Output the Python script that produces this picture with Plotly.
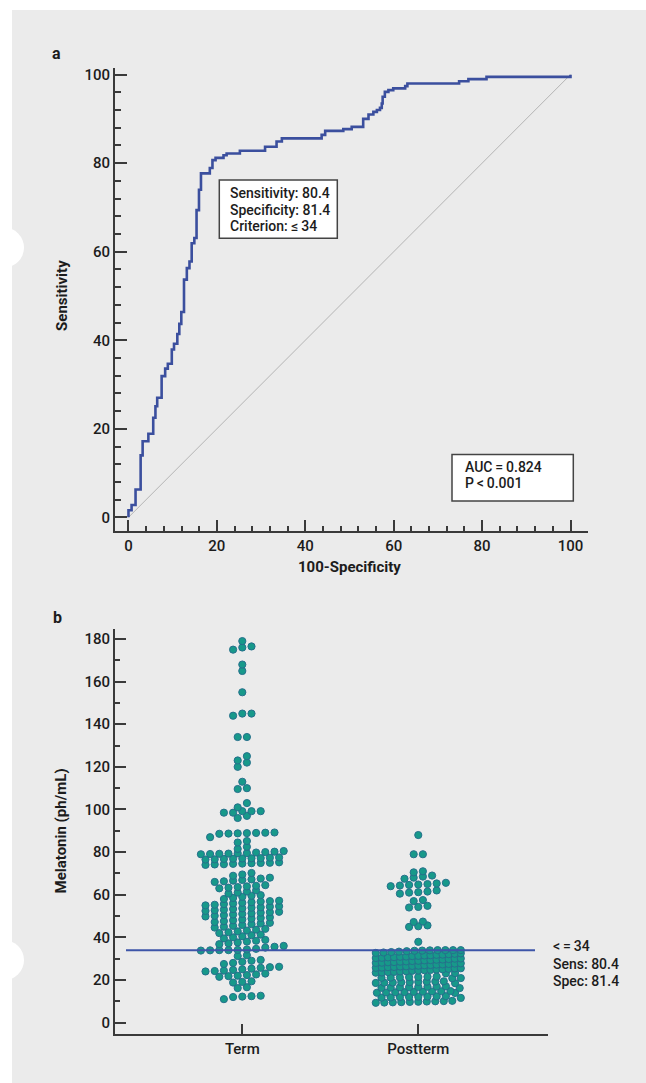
import numpy as np
import plotly.graph_objects as go

W, H = 646, 1083
FONT = "Roboto"

# ---------------- Data ----------------
# ROC curve (100-Specificity, Sensitivity), step vertices
roc_fpr = [0, 0, 0.7, 1.6, 2.75, 3.2, 4.5, 5.6, 6.1, 6.5, 7.5, 8.3, 8.9, 9.8, 10.3,
           11.05, 11.5, 11.95, 12.56, 13.2, 13.8, 14.3, 14.9, 15.4, 15.95, 16.4,
           18.4, 19.0, 19.7, 21.5, 22.2, 25.2, 30.9, 33.5, 34.7, 43.7, 44.5, 48.6,
           50.5, 53.1, 54.3, 55.4, 56.2, 56.9, 57.3, 57.5, 58.0, 58.8, 59.9, 62.6,
           63.1, 74.8, 76.9, 81.0, 100]
roc_tpr = [0, 1.6, 2.8, 6.3, 14.0, 17.2, 18.9, 22.5, 25.1, 27.0, 31.9, 33.6, 34.7,
           37.9, 39.2, 41.4, 43.7, 46.4, 53.7, 56.3, 57.8, 61.9, 63.1, 69.4, 74.0,
           77.7, 78.9, 80.7, 81.2, 81.8, 82.2, 82.8, 83.7, 84.9, 85.6, 86.4, 87.3,
           87.7, 88.2, 90.0, 91.0, 91.6, 92.0, 92.5, 93.5, 95.0, 96.1, 96.5, 96.9,
           97.4, 98.0, 98.5, 99.0, 99.5, 100]

groups = ["Term", "Postterm"]

term_values = [
    11, 12, 12.2, 12.4, 12.6,
    16.2, 16.6,
    18.8, 19.1, 19.4,
    21.5, 21.8, 22.0, 22.3, 22.6, 23.0,
    24.0, 24.2, 24.4, 24.7, 25.0, 25.3, 25.7, 26.0, 26.2,
    27.5, 28.0, 28.5, 29.0, 29.4,
    31.2, 31.6,
    33.8, 33.9, 34.0, 34.0, 34.1, 34.3, 34.6, 35.2, 35.6, 36.0,
    36.8, 37.2, 37.6, 38.0, 38.4, 38.8,
    39.5, 40.0, 40.5, 41.0, 41.3,
    42.0, 42.4, 42.8, 43.2, 43.6, 44.0,
    44.6, 45.0, 45.4, 45.8, 46.2, 46.5, 46.8,
    47.2, 47.6, 48.0, 48.4, 48.8, 49.1, 49.4,
    49.8, 50.1, 50.4, 50.7, 51.0, 51.3, 51.6, 51.8, 52.0,
    52.4, 52.7, 53.0, 53.3, 53.6, 53.9, 54.1, 54.4, 54.6,
    55.0, 55.3, 55.6, 55.9, 56.2, 56.5, 56.8, 57.0, 57.2,
    58.0, 58.5, 59.0, 59.5, 59.8,
    60.5, 61.0, 61.5, 62.0,
    63.0, 63.3, 63.6, 63.9, 64.2, 64.5,
    66.0, 66.3, 66.6, 66.9, 67.2, 67.6, 68.0,
    68.9, 69.5, 70.2,
    74.0, 74.2, 74.3, 74.5, 74.6, 74.8, 74.9, 75.0, 75.2,
    76.5, 76.6, 76.8, 76.9, 77.0, 77.1, 77.2, 77.4, 77.5,
    79.0, 79.1, 79.2, 79.3, 79.4, 79.5, 79.8, 80.0, 80.2, 80.5,
    81.5, 82.5,
    84.5, 85.2,
    87.0, 88.6, 88.7, 88.8, 88.9, 89.0, 89.1, 89.2,
    96.0, 97.0,
    98.5, 98.5, 99.2, 99.2, 99.2,
    101.0, 103.0,
    109.6, 110.0,
    113.0,
    120.0, 122.0,
    123.0, 125.0,
    134.0, 134.0,
    144.0, 145.0, 145.0,
    155.0,
    165.0,
    168.0,
    175.0, 176.0, 176.5,
    179.0,
]

postterm_values = [
    9.3, 9.4, 9.5, 9.6, 9.7, 9.8, 9.9, 10.0, 10.1, 10.2,
    11.6, 11.7, 11.8, 11.9, 12.0, 12.1, 12.2, 12.3, 12.4,
    13.9, 14.0, 14.1, 14.2, 14.3, 14.4, 14.5, 14.6, 14.7, 14.8,
    16.2, 16.3, 16.4, 16.5, 16.6, 16.7, 16.8, 16.9, 17.0,
    18.5, 18.6, 18.7, 18.8, 18.9, 19.0, 19.1, 19.2, 19.3, 19.4,
    20.8, 20.9, 21.0, 21.1, 21.2, 21.3, 21.4, 21.5, 21.6,
    23.1, 23.2, 23.4, 23.5, 23.7, 23.8, 24.0, 24.1, 24.3, 24.4, 24.6, 24.7, 24.9, 25.0, 25.2,
    25.4, 25.5, 25.7, 25.8, 26.0, 26.1, 26.3, 26.4, 26.6, 26.7, 26.9, 27.0, 27.2, 27.3, 27.5,
    27.7, 27.8, 28.0, 28.1, 28.3, 28.4, 28.6, 28.7, 28.9, 29.0, 29.2, 29.3, 29.5, 29.6, 29.8,
    30.0, 30.1, 30.3, 30.4, 30.6, 30.7, 30.9, 31.0, 31.2, 31.3, 31.5, 31.6, 31.8, 31.9, 32.1,
    32.3, 32.5, 32.7, 32.9, 33.1, 33.3, 33.5, 33.7, 33.8, 33.9, 34.0, 34.0, 34.0, 34.0,
    37.9,
    44.9, 45.2, 45.6,
    47.2, 47.4,
    54.0, 54.3, 54.8,
    57.0, 57.5,
    60.5, 61.0, 61.2, 61.5, 62.0,
    64.0, 64.3, 64.6, 64.8, 65.0, 65.3, 65.6,
    67.5, 68.0, 68.5, 69.0,
    70.5, 71.0,
    79.0, 79.0,
    88.0,
]

cutoff = 34
roc_box_lines = ["Sensitivity: 80.4", "Specificity: 81.4", "Criterion: \u2264\u200934"]
auc_lines = ["AUC\u2009=\u20090.824", "P\u2009<\u20090.001"]
cut_lines = ["<\u2009=\u200934", "Sens: 80.4", "Spec: 81.4"]

# ---------------- helpers ----------------
def pxx(x):
    return x / W

def pxy(y):
    return 1 - y / H

PX_PER_CAT = 176.0


def swarm(values, row_span=2.3, spacing_px=9.2, max_width_px=85.0):
    vals = np.sort(np.asarray(values, dtype=float))
    xs = np.zeros_like(vals)
    i, n = 0, len(vals)
    while i < n:
        j = i
        while j < n and vals[j] < vals[i] + row_span:
            j += 1
        m = j - i
        s = spacing_px if m <= 1 else min(spacing_px, max_width_px / (m - 1))
        xs[i:j] = (np.arange(m) - (m - 1) / 2.0) * s / PX_PER_CAT
        i = j
    return vals, xs


AX = "#3a3a3a"
TXT = "#1c1c1c"
BLUE = "#3b4f9e"

fig = go.Figure()

# Panel a: diagonal + ROC
fig.add_trace(go.Scatter(x=[0, 100], y=[0, 100], mode="lines",
                         line=dict(color="#b4b4b4", width=1), xaxis="x", yaxis="y",
                         hoverinfo="skip"))
fig.add_trace(go.Scatter(x=roc_fpr, y=roc_tpr, mode="lines", line_shape="hv",
                         line=dict(color=BLUE, width=2.6), xaxis="x", yaxis="y"))

# Panel b: dot plots
for gi, (name, vals) in enumerate(zip(groups, [term_values, postterm_values])):
    yv, xo = swarm(vals)
    fig.add_trace(go.Scatter(x=gi + xo, y=yv, mode="markers", name=name,
                             marker=dict(size=7.2, color="#17998a",
                                         line=dict(color="#26708c", width=1)),
                             xaxis="x2", yaxis="y2"))

axis_common = dict(showline=True, linewidth=2, linecolor=AX, showgrid=False,
                   zeroline=False, ticks="inside", tickwidth=2, tickcolor=AX,
                   tickfont=dict(family=FONT, size=15, color=TXT, weight=500))

fig.update_layout(
    width=W, height=H, margin=dict(l=0, r=0, t=0, b=0),
    paper_bgcolor="white", plot_bgcolor="rgba(0,0,0,0)", showlegend=False,
    font=dict(family=FONT, size=15, color=TXT),
    xaxis=dict(domain=[pxx(115), pxx(588)], range=[-3.05, 103.96], anchor="y",
               tickvals=[0, 20, 40, 60, 80, 100], ticklen=11,
               minor=dict(ticks="inside", ticklen=5, tickwidth=1.5, tickcolor=AX,
                          dtick=4, tick0=0),
               **axis_common),
    yaxis=dict(domain=[pxy(530), pxy(66)], range=[-3.09, 101.53], anchor="x",
               tickvals=[0, 20, 40, 60, 80, 100], ticklen=12,
               minor=dict(ticks="inside", ticklen=6, tickwidth=1.5, tickcolor=AX,
                          dtick=4, tick0=0),
               **axis_common),
    xaxis2=dict(domain=[pxx(115), pxx(548)], range=[-0.7233, 1.737], anchor="y2",
                tickvals=[0, 1], ticktext=groups, ticklen=10, **axis_common),
    yaxis2=dict(domain=[pxy(1033.7), pxy(627.7)], range=[-5.25, 184.9], anchor="x2",
                tickvals=list(range(0, 181, 20)), ticklen=11,
                minor=dict(ticks="inside", ticklen=5, tickwidth=1.5, tickcolor=AX,
                           dtick=10, tick0=0),
                **axis_common),
)

shapes = [
    dict(type="rect", xref="paper", yref="paper", x0=pxx(12), x1=1, y0=0, y1=pxy(8),
         fillcolor="#ebebeb", line=dict(width=0), layer="below"),
    # white page-edge notches
    dict(type="circle", xref="paper", yref="paper", x0=pxx(-16), x1=pxx(24),
         y0=pxy(266), y1=pxy(226), fillcolor="white", line=dict(width=0),
         layer="below"),
    dict(type="circle", xref="paper", yref="paper", x0=pxx(-16), x1=pxx(24),
         y0=pxy(980), y1=pxy(940), fillcolor="white", line=dict(width=0),
         layer="below"),
    # criterion box
    dict(type="rect", xref="paper", yref="paper", x0=pxx(219.3), x1=pxx(337.3),
         y0=pxy(236.7), y1=pxy(178.3), fillcolor="white",
         line=dict(color="#444444", width=1.5), layer="above"),
    # AUC box
    dict(type="rect", xref="paper", yref="paper", x0=pxx(452), x1=pxx(573.3),
         y0=pxy(500), y1=pxy(453.3), fillcolor="white",
         line=dict(color="#444444", width=1.5), layer="above"),
    # cutoff line
    dict(type="line", xref="x2 domain", yref="y2", x0=(126 - 115) / 433.0,
         x1=(535 - 115) / 433.0, y0=cutoff, y1=cutoff,
         line=dict(color="#3d55a8", width=2), layer="above"),
]
fig.update_layout(shapes=shapes)

ann = []
def text(x, y, s, size=15, weight=500, xanchor="center", yanchor="middle", angle=0,
         align="left"):
    ann.append(dict(x=pxx(x), y=pxy(y), xref="paper", yref="paper", text=s,
                    showarrow=False, xanchor=xanchor, yanchor=yanchor,
                    textangle=angle, align=align,
                    font=dict(family=FONT, size=size, color=TXT, weight=weight)))

text(56, 52, "a", size=16, weight=700)
text(57, 617, "b", size=16, weight=700)
text(62, 294.5, "Sensitivity", size=15, weight=700, angle=-90)
text(349.5, 566, "100-Specificity", size=15, weight=700)
text(61, 830, "Melatonin (ph/mL)", size=15, weight=700, angle=-90)

for k, s in enumerate(roc_box_lines):
    text(227.5, 191.7 + k * 16.6, s, size=14, weight=500, xanchor="left")
for k, s in enumerate(auc_lines):
    text(463, 465.7 + k * 16.0, s, size=14, weight=500, xanchor="left")
for k, s in enumerate(cut_lines):
    text(550.5, 946 + k * 17.4, s, size=14, weight=500, xanchor="left")

fig.update_layout(annotations=ann)

fig.write_html("out.html")
